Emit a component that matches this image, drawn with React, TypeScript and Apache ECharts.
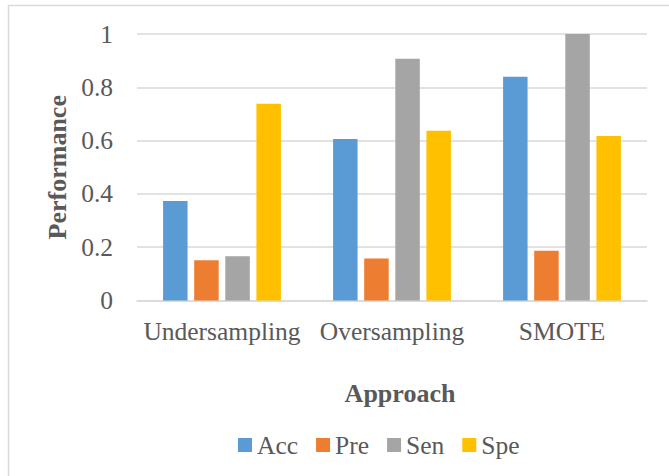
import React, { useEffect, useRef } from "react";
import * as echarts from "echarts";

const categories = ["Undersampling", "Oversampling", "SMOTE"];
const seriesNames = ["Acc", "Pre", "Sen", "Spe"];
const accValues = [0.373, 0.606, 0.84];
const preValues = [0.151, 0.158, 0.187];
const senValues = [0.166, 0.907, 1.0];
const speValues = [0.738, 0.637, 0.617];
const yTicks = [0, 0.2, 0.4, 0.6, 0.8, 1];

const colors = ["#5B9BD5", "#ED7D31", "#A5A5A5", "#FFC000"];
const FONT = "'Liberation Serif', 'Times New Roman', serif";
const TEXT = "#595959";
const GRID = "#D9D9D9";

export default function App() {
  const ref = useRef<HTMLDivElement>(null);
  useEffect(() => {
    document.body.style.margin = "0";
    const chart = echarts.init(ref.current!, null, { renderer: "svg" });
    const values = [accValues, preValues, senValues, speValues];
    chart.setOption({
      animation: false,
      backgroundColor: "#ffffff",
      textStyle: { fontFamily: FONT },
      grid: { left: 137, right: 22, top: 34, bottom: 175.5, containLabel: false },
      legend: {
        data: seriesNames,
        left: 233,
        top: 427,
        icon: "rect",
        itemWidth: 14,
        itemHeight: 14,
        itemGap: 18,
        textStyle: { fontFamily: FONT, fontSize: 25.5, color: TEXT },
      },
      xAxis: {
        type: "category",
        data: categories,
        axisLine: { show: true, lineStyle: { color: GRID, width: 1.5 } },
        axisTick: { show: false },
        axisLabel: { fontFamily: FONT, fontSize: 25.5, color: TEXT, margin: 18, interval: 0 },
        name: "Approach",
        nameLocation: "middle",
        nameGap: 80,
        nameTextStyle: {
          fontFamily: FONT,
          fontSize: 26,
          fontWeight: "bold",
          color: TEXT,
          padding: [0, 0, 0, 16],
        },
      },
      yAxis: {
        type: "value",
        min: yTicks[0],
        max: yTicks[yTicks.length - 1],
        interval: 0.2,
        axisLine: { show: false },
        axisTick: { show: false },
        splitLine: { show: true, lineStyle: { color: GRID, width: 1.5 } },
        axisLabel: { fontFamily: FONT, fontSize: 25.5, color: TEXT, margin: 24 },
        name: "Performance",
        nameLocation: "middle",
        nameGap: 67,
        nameTextStyle: { fontFamily: FONT, fontSize: 26, fontWeight: "bold", color: TEXT },
      },
      series: seriesNames.map((name, i) => ({
        name,
        type: "bar",
        data: values[i],
        barWidth: 24.5,
        barGap: "27%",
        itemStyle: { color: colors[i] },
      })),
      graphic: [
        {
          type: "line",
          shape: { x1: 8, y1: 5.5, x2: 669, y2: 5.5 },
          style: { stroke: GRID, lineWidth: 1.5 },
        },
        {
          type: "line",
          shape: { x1: 8.5, y1: 5, x2: 8.5, y2: 476 },
          style: { stroke: GRID, lineWidth: 1.5 },
        },
      ],
    });
    return () => chart.dispose();
  }, []);
  return (
    <div
      ref={ref}
      style={{ position: "absolute", left: 0, top: 0, width: 669, height: 476 }}
    />
  );
}
